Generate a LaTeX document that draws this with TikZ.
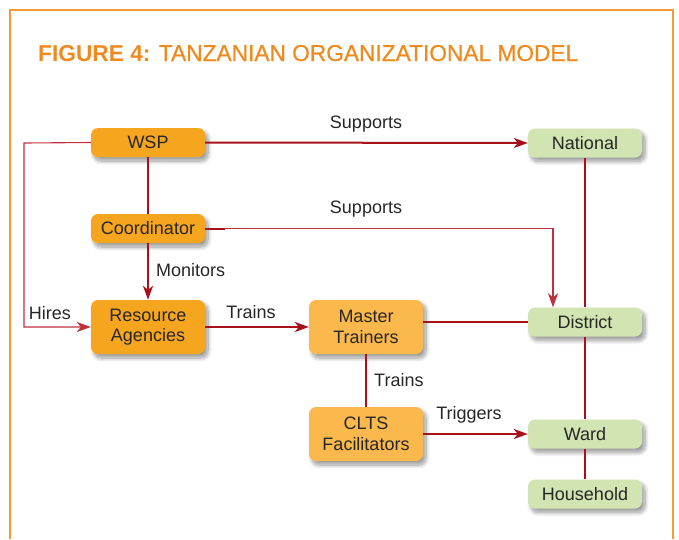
\documentclass[tikz,border=0pt]{standalone}
\usepackage{fontspec}
\setmainfont{Liberation Sans}
\newfontfamily\medfont{Liberation Sans}[FakeBold=0.7]
\usetikzlibrary{arrows.meta,shadows.blur,calc}
\definecolor{frameor}{HTML}{F39A3A}
\definecolor{titleor}{HTML}{EE8A1E}
\definecolor{boxor}{HTML}{F6A51F}
\definecolor{boxlt}{HTML}{FBB84C}
\definecolor{boxgr}{HTML}{D1E4B1}
\definecolor{linered}{HTML}{A8101C}
\definecolor{thinred}{HTML}{C0303C}
\definecolor{txt}{HTML}{262626}
\tikzset{
  box/.style={rounded corners=7pt, minimum width=114pt, inner sep=0pt, align=center,
    text=txt, font=\fontsize{18}{20.5}\selectfont,
    blur shadow={shadow xshift=3pt, shadow yshift=-4pt, shadow blur steps=10, shadow blur radius=4pt, shadow opacity=40}},
  onebox/.style={box, minimum height=29pt},
  twobox/.style={box, minimum height=54pt},
  lbl/.style={text=txt, font=\fontsize{18}{20}\selectfont, inner sep=0pt},
  conn/.style={draw=linered, line width=2pt},
  thin/.style={draw=thinred, line width=1.1pt},
  tip/.style={-{Stealth[length=14pt,width=10pt,inset=4pt]}},
}
\begin{document}
\begin{tikzpicture}[x=1pt,y=-1pt]
\useasboundingbox (0,0) rectangle (679,539);
% frame
\draw[frameor, line width=1.5pt] (10,539) -- (10,10) -- (673,10) -- (673,539);
% title
\node[anchor=base west, inner sep=0pt, text=titleor] (title) at (38,61)
  {\resizebox{540pt}{\height}{\fontsize{23}{26}\selectfont\textbf{FIGURE 4:} {\medfont TANZANIAN ORGANIZATIONAL MODEL}}};
% nodes
\node[onebox, fill=boxor] (wsp) at (148,142.5) {WSP};
\node[onebox, fill=boxor] (coord) at (148,228.5) {Coordinator};
\node[twobox, fill=boxor] (ra) at (148,327) {Resource\\Agencies};
\node[twobox, fill=boxlt] (mt) at (366,327) {Master\\Trainers};
\node[twobox, fill=boxlt] (clts) at (366,434) {CLTS\\Facilitators};
\node[onebox, fill=boxgr] (nat) at (585,143) {National};
\node[onebox, fill=boxgr] (dist) at (585,322) {District};
\node[onebox, fill=boxgr] (ward) at (585,434) {Ward};
\node[onebox, fill=boxgr] (house) at (585,494) {Household};
% connectors
\coordinate (hl) at (24,143);
\coordinate (cd) at (553,228.5);
\draw[thin, tip] (wsp.west) -- (hl) |- (ra.west);
\draw[thin, tip] (coord.east) -- (cd) -- (cd |- dist.north);
\draw[conn] (coord.east) -- ++(20,0);
\draw[conn, tip] (wsp.east) -- (nat.west);
\draw[conn] (wsp.south) -- (coord.north);
\draw[conn, tip] (coord.south) -- (ra.north);
\draw[conn, tip] (ra.east) -- (mt.west);
\draw[conn] (dist.west -| mt.east) -- (dist.west);
\draw[conn] (mt.south) -- (clts.north);
\draw[conn, tip] (clts.east) -- (ward.west);
\draw[conn] (nat.south) -- (dist.north);
\draw[conn] (dist.south) -- (ward.north);
\draw[conn] (ward.south) -- (house.north);
% labels
\node[lbl] (l1) at (366,124) {Supports};
\node[lbl] (l2) at (366,209) {Supports};
\node[lbl, anchor=west] (l3) at (156,270) {Monitors};
\node[lbl] (l4) at (50,313) {Hires};
\node[lbl] (l5) at (251,312) {Trains};
\node[lbl, anchor=west] (l6) at (374,380) {Trains};
\node[lbl] (l7) at (469,415) {Triggers};
\end{tikzpicture}
\end{document}
